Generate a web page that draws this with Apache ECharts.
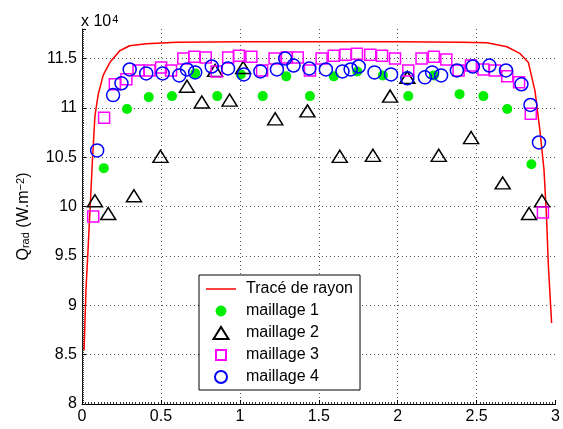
<!DOCTYPE html>
<html>
<head>
<meta charset="utf-8">
<script src="https://cdn.jsdelivr.net/npm/echarts@6/dist/echarts.min.js"></script>
<style>
html,body{margin:0;padding:0;background:#fff;}
#chart{width:563px;height:429px;}
</style>
</head>
<body>
<div id="chart"></div>
<script>
// Values are in units of 1e4 W.m^-2 (axis shows "x 10^4")
const xTicks = [0, 0.5, 1, 1.5, 2, 2.5, 3];
const yTicks = [8, 8.5, 9, 9.5, 10, 10.5, 11, 11.5];

const lineX = [0.013, 0.025, 0.040, 0.055, 0.067, 0.082, 0.103, 0.134, 0.176, 0.239, 0.302, 0.407, 0.6, 1.0, 1.5, 2.0, 2.4, 2.566, 2.692, 2.776, 2.828, 2.870, 2.901, 2.927, 2.943, 2.954, 2.975];
const lineY = [8.546, 9.15, 9.62, 10.10, 10.50, 10.92, 11.14, 11.33, 11.46, 11.58, 11.63, 11.65, 11.665, 11.67, 11.67, 11.67, 11.665, 11.66, 11.62, 11.55, 11.46, 11.17, 10.77, 10.37, 9.89, 9.42, 8.82];

const m1X = [0.138, 0.285, 0.423, 0.570, 0.717, 0.857, 1.006, 1.145, 1.294, 1.444, 1.595, 1.744, 1.906, 2.067, 2.229, 2.392, 2.543, 2.694, 2.847];
const m1Y = [10.39, 10.99, 11.11, 11.12, 11.35, 11.12, 11.34, 11.12, 11.32, 11.12, 11.32, 11.37, 11.33, 11.12, 11.33, 11.14, 11.12, 10.99, 10.43];

const m2X = [0.082, 0.166, 0.329, 0.497, 0.665, 0.759, 0.843, 0.935, 1.021, 1.224, 1.428, 1.633, 1.843, 1.952, 2.061, 2.26, 2.465, 2.665, 2.832, 2.914];
const m2Y = [10.06, 9.93, 10.11, 10.51, 11.22, 11.06, 11.38, 11.08, 11.41, 10.89, 10.97, 10.51, 10.52, 11.12, 11.31, 10.52, 10.70, 10.24, 9.93, 10.06];

const m3X = [0.071, 0.140, 0.208, 0.281, 0.358, 0.428, 0.501, 0.564, 0.642, 0.711, 0.784, 0.853, 0.926, 0.994, 1.073, 1.141, 1.220, 1.298, 1.367, 1.444, 1.518, 1.595, 1.669, 1.742, 1.826, 1.901, 1.983, 2.067, 2.151, 2.229, 2.308, 2.386, 2.464, 2.543, 2.616, 2.694, 2.769, 2.843, 2.920];
const m3Y = [9.90, 10.90, 11.24, 11.29, 11.38, 11.38, 11.41, 11.38, 11.50, 11.52, 11.51, 11.37, 11.51, 11.53, 11.52, 11.38, 11.50, 11.51, 11.51, 11.38, 11.50, 11.53, 11.54, 11.55, 11.54, 11.53, 11.50, 11.38, 11.50, 11.52, 11.49, 11.38, 11.43, 11.39, 11.38, 11.32, 11.26, 10.94, 9.94];

const m4X = [0.096, 0.197, 0.250, 0.302, 0.407, 0.511, 0.616, 0.665, 0.717, 0.822, 0.925, 1.025, 1.130, 1.235, 1.287, 1.340, 1.440, 1.545, 1.650, 1.702, 1.753, 1.853, 1.958, 2.061, 2.172, 2.218, 2.275, 2.375, 2.476, 2.581, 2.686, 2.784, 2.841, 2.895];
const m4Y = [10.57, 11.13, 11.25, 11.39, 11.35, 11.35, 11.33, 11.39, 11.36, 11.42, 11.40, 11.34, 11.37, 11.39, 11.50, 11.43, 11.40, 11.39, 11.37, 11.39, 11.42, 11.36, 11.34, 11.30, 11.31, 11.36, 11.33, 11.38, 11.42, 11.43, 11.38, 11.24, 11.03, 10.65];

const seriesNames = ['Tracé de rayon', 'maillage 1', 'maillage 2', 'maillage 3', 'maillage 4'];

const pairs = (xs, ys) => xs.map((x, i) => [x, ys[i]]);
const FONT = '"Liberation Sans", Arial, Helvetica, sans-serif';

const chart = echarts.init(document.getElementById('chart'), null, {renderer: 'canvas'});

const gridLine = {show: true, showMinLine: false, showMaxLine: false, lineStyle: {color: '#555', width: 1, type: [1, 3]}};

chart.setOption({
  animation: false,
  backgroundColor: '#fff',
  title: {
    left: 81, top: 14, padding: 0,
    text: '{a|x 10}{s|4}',
    textStyle: {
      fontWeight: 'normal',
      rich: {
        a: {fontSize: 16, fontFamily: FONT, fontWeight: 'normal', color: '#000', verticalAlign: 'bottom', lineHeight: 16},
        s: {fontSize: 11, fontFamily: FONT, fontWeight: 'normal', color: '#000', verticalAlign: 'top', lineHeight: 11, padding: [0, 0, 9, 1]}
      }
    }
  },
  grid: {left: 82, right: 4, top: 29, bottom: 25, containLabel: false},
  xAxis: {
    type: 'value', min: 0, max: 3, interval: 0.5,
    axisLine: {onZero: false, lineStyle: {color: '#000', width: 1}},
    axisTick: {inside: true, length: 4, lineStyle: {color: '#000'}},
    minorTick: {show: true, splitNumber: 25, length: 2, lineStyle: {color: '#333'}},
    axisLabel: {fontSize: 16, fontFamily: FONT, color: '#000', margin: 5,
      formatter: v => (xTicks.indexOf(v) >= 0 ? String(v) : '')},
    splitLine: gridLine
  },
  yAxis: {
    type: 'value', min: 8, max: 11.8, interval: 0.5,
    axisLine: {show: true, onZero: false, lineStyle: {color: '#000', width: 1}},
    axisTick: {show: true, inside: true, length: 4, lineStyle: {color: '#000'}},
    minorTick: {show: true, splitNumber: 25, length: 2, lineStyle: {color: '#333'}},
    axisLabel: {fontSize: 16, fontFamily: FONT, color: '#000', margin: 5, showMaxLabel: false,
      formatter: v => (yTicks.indexOf(v) >= 0 ? String(v) : '')},
    splitLine: gridLine,
    name: '{q|Q}{sub|rad}{q| (W.m}{sup|−2}{q|)}',
    nameLocation: 'middle', nameRotate: 90, nameGap: 42,
    nameTextStyle: {
      rich: {
        q: {fontSize: 16, fontFamily: FONT, color: '#000', verticalAlign: 'middle', lineHeight: 16},
        sub: {fontSize: 11, fontFamily: FONT, color: '#000', verticalAlign: 'bottom', lineHeight: 11, padding: [9, 0, 0, 0]},
        sup: {fontSize: 11, fontFamily: FONT, color: '#000', verticalAlign: 'top', lineHeight: 11, padding: [0, 0, 8, 0]}
      }
    }
  },
  legend: {
    orient: 'vertical', left: 199, top: 275,
    padding: [6, 7, 5, 7], itemGap: 6, itemWidth: 30, itemHeight: 12,
    borderColor: '#000', borderWidth: 1, borderRadius: 0, backgroundColor: '#fff',
    textStyle: {fontSize: 16, fontFamily: FONT, color: '#000', lineHeight: 16, padding: [0, 0, 0, 5]},
    data: [
      {name: seriesNames[0], icon: 'path://M0,0L30,0L30,1.5L0,1.5Z', itemStyle: {color: '#ff0000'}},
      {name: seriesNames[1], icon: 'path://M0,5A5,5 0 1,1 10,5A5,5 0 1,1 0,5Z M-0.5,-0.5 M10.5,10.5'},
      {name: seriesNames[2], icon: 'path://M0,12L7.5,0L15,12Z'},
      {name: seriesNames[3], icon: 'path://M0,0L10,0L10,10L0,10Z M-1,-1 M11,11'},
      {name: seriesNames[4], icon: 'circle'}
    ]
  },
  series: [
    {
      name: seriesNames[0], type: 'line', data: pairs(lineX, lineY),
      symbol: 'none', showSymbol: false, smooth: false,
      lineStyle: {color: '#ff0000', width: 1.5}, itemStyle: {color: '#ff0000'}, z: 2
    },
    {
      name: seriesNames[1], type: 'scatter', data: pairs(m1X, m1Y),
      symbol: 'circle', symbolSize: 10,
      itemStyle: {color: '#00ee00', opacity: 1}, z: 3
    },
    {
      name: seriesNames[2], type: 'scatter', data: pairs(m2X, m2Y),
      symbol: 'triangle', symbolSize: [15, 12],
      itemStyle: {color: 'rgba(0,0,0,0)', borderColor: '#000', borderWidth: 1.5, opacity: 1}, z: 4
    },
    {
      name: seriesNames[3], type: 'scatter', data: pairs(m3X, m3Y),
      symbol: 'rect', symbolSize: 11,
      itemStyle: {color: 'rgba(0,0,0,0)', borderColor: '#ff00ff', borderWidth: 1.5, opacity: 1}, z: 5
    },
    {
      name: seriesNames[4], type: 'scatter', data: pairs(m4X, m4Y),
      symbol: 'circle', symbolSize: 13,
      itemStyle: {color: 'rgba(0,0,0,0)', borderColor: '#0000ff', borderWidth: 1.5, opacity: 1}, z: 6
    }
  ]
});
</script>
</body>
</html>
